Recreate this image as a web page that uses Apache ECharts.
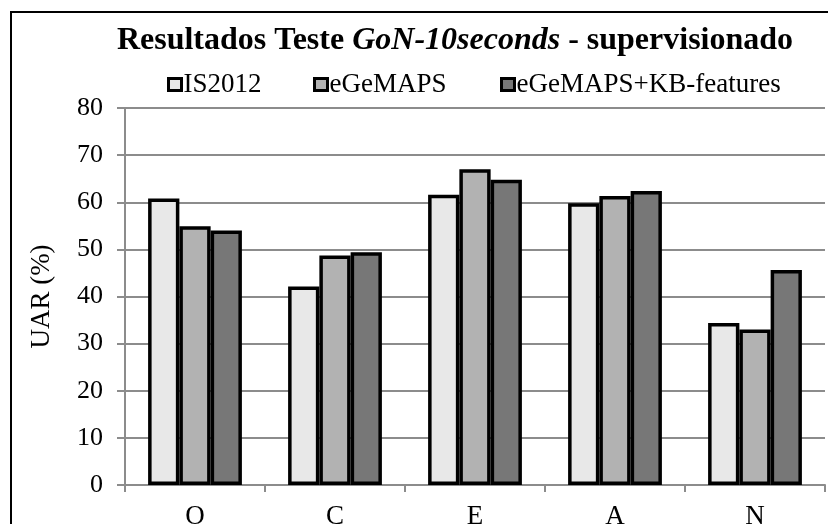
<!DOCTYPE html>
<html>
<head>
<meta charset="utf-8">
<script src="https://cdn.jsdelivr.net/npm/echarts@6/dist/echarts.min.js"></script>
<style>html,body{margin:0;padding:0;background:#fff}#c{width:828px;height:524px}</style>
</head>
<body>
<div id="c"></div>
<script>
const categories = ['O', 'C', 'E', 'A', 'N'];
const seriesNames = ['IS2012', 'eGeMAPS', 'eGeMAPS+KB-features'];
const is2012 = [60.8, 42.1, 61.6, 59.8, 34.4];
const egemaps = [54.9, 48.7, 67.0, 61.3, 33.0];
const egemapsKB = [54.0, 49.4, 64.8, 62.4, 45.6];
const yTicks = [0, 10, 20, 30, 40, 50, 60, 70, 80];

const colors = ['#e8e8e8', '#b2b2b2', '#777777'];
const FONT = '"Liberation Serif", "Times New Roman", serif';
const chart = echarts.init(document.getElementById('c'));
const legendLefts = [167, 313, 500];
const values = [is2012, egemaps, egemapsKB];

chart.setOption({
  animation: false,
  backgroundColor: '#fff',
  title: {
    text: '{b|Resultados Teste }{i|GoN-10seconds}{b| - supervisionado}',
    left: 450, textAlign: 'center', top: 20,
    textStyle: {
      rich: {
        b: {fontFamily: FONT, fontWeight: 'bold', fontSize: 32, color: '#000'},
        i: {fontFamily: FONT, fontWeight: 'bold', fontStyle: 'italic', fontSize: 32, color: '#000'}
      }
    }
  },
  legend: seriesNames.map((n, i) => ({
    data: [n], left: legendLefts[i], top: 71, padding: 0,
    icon: 'rect', itemWidth: 13, itemHeight: 12,
    itemStyle: {borderColor: '#000', borderWidth: 3},
    textStyle: {fontFamily: FONT, fontSize: 27, color: '#000', padding: [0, 0, 0, -3]}
  })),
  grid: {left: 125, right: 3, top: 108, bottom: 39, containLabel: false, outerBoundsMode: 'none'},
  xAxis: {
    type: 'category', data: categories,
    axisLine: {lineStyle: {color: '#8c8c8c', width: 2}},
    axisTick: {show: true, length: 7, lineStyle: {color: '#8c8c8c', width: 2}},
    axisLabel: {fontFamily: FONT, fontSize: 27, color: '#000', margin: 18}
  },
  yAxis: {
    type: 'value', min: yTicks[0], max: yTicks[yTicks.length - 1], interval: 10,
    name: 'UAR (%)', nameLocation: 'middle', nameGap: 70, nameRotate: 90,
    nameTextStyle: {fontFamily: FONT, fontSize: 27, color: '#000'},
    axisLine: {show: true, lineStyle: {color: '#8c8c8c', width: 2}},
    axisTick: {show: true, inside: false, length: 8, lineStyle: {color: '#8c8c8c', width: 2}},
    axisLabel: {fontFamily: FONT, fontSize: 26, color: '#000', margin: 22},
    splitLine: {lineStyle: {color: '#8c8c8c', width: 2}}
  },
  series: seriesNames.map((n, i) => ({
    name: n, type: 'bar', data: values[i],
    barGap: '0%', barCategoryGap: '33%',
    itemStyle: {color: colors[i], borderColor: '#000', borderWidth: 3.5}
  })),
  graphic: [{
    type: 'rect', shape: {x: 11, y: 12, width: 840, height: 540},
    style: {fill: null, stroke: '#000', lineWidth: 2}, silent: true, z: 100
  }]
});
</script>
</body>
</html>
